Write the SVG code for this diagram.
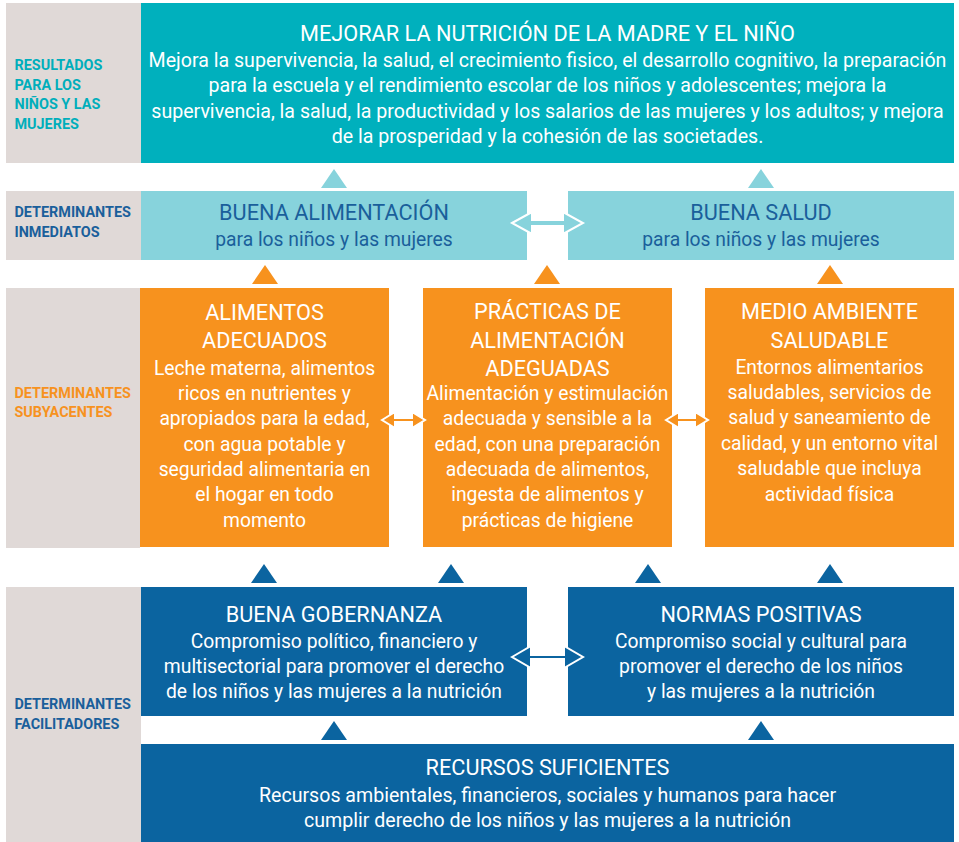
<svg xmlns="http://www.w3.org/2000/svg" width="959" height="842" viewBox="0 0 959 842">
<style>
.t{font-family:Roboto,"Liberation Sans",Arial,sans-serif;text-anchor:middle}
.h{font-size:21.7px}
.b{font-size:19.3px}
.bw{font-size:19.6px}
.w{fill:#fff}
.dk{fill:#1a5f9b}
.lab{font-family:Roboto,"Liberation Sans",Arial,sans-serif;font-weight:bold;font-size:15px}
.gray{fill:#e0d9d7}
.teal{fill:#00b0bd}
.lt{fill:#87d3dc}
.or{fill:#f7921e}
.bl{fill:#0b64a0}
.arr{stroke:#fff;stroke-width:2;stroke-linejoin:miter}
</style>
<defs>
<path id="tri" d="M0,0 L13,19 L-13,19 Z"/>
</defs>
<rect width="959" height="842" fill="#fff"/>

<g id="row-labels">
<rect class="gray" x="6" y="3" width="135" height="160"/>
<rect class="gray" x="6" y="191" width="135" height="69"/>
<rect class="gray" x="6" y="288" width="134" height="260"/>
<rect class="gray" x="6" y="587" width="135" height="255"/>
<g transform="translate(14.5 0) scale(0.96 1)" class="lab">
<text y="70.5" fill="#00aebb">RESULTADOS</text>
<text y="90" fill="#00aebb">PARA LOS</text>
<text y="109.5" fill="#00aebb">NIÑOS Y LAS</text>
<text y="129" fill="#00aebb">MUJERES</text>
<text y="217.3" fill="#1a5f9b">DETERMINANTES</text>
<text y="237.3" fill="#1a5f9b">INMEDIATOS</text>
<text y="398.3" fill="#f7921e">DETERMINANTES</text>
<text y="417.3" fill="#f7921e">SUBYACENTES</text>
<text y="709.3" fill="#1a5f9b">DETERMINANTES</text>
<text y="728.7" fill="#1a5f9b">FACILITADORES</text>
</g>
</g>

<g id="node-resultados">
<rect class="teal" x="141" y="3" width="813" height="160"/>
<g class="t w">
<text class="h" x="547.5" y="40.5">MEJORAR LA NUTRICIÓN DE LA MADRE Y EL NIÑO</text>
<text class="bw" x="547.5" y="66.5">Mejora la supervivencia, la salud, el crecimiento fisico, el desarrollo cognitivo, la preparación</text>
<text class="bw" x="547.5" y="92.2">para la escuela y el rendimiento escolar de los niños y adolescentes; mejora la</text>
<text class="bw" x="547.5" y="117.8">supervivencia, la salud, la productividad y los salarios de las mujeres y los adultos; y mejora</text>
<text class="bw" x="547.5" y="143.4">de la prosperidad y la cohesión de las societades.</text>
</g>
</g>

<g id="node-buena-alimentacion">
<rect class="lt" x="141" y="191" width="386" height="69"/>
<g class="t dk">
<text class="h" x="334" y="220">BUENA ALIMENTACIÓN</text>
<text class="b" x="334" y="245.5">para los niños y las mujeres</text>
</g>
</g>

<g id="node-buena-salud">
<rect class="lt" x="568" y="191" width="386" height="69"/>
<g class="t dk">
<text class="h" x="761" y="220">BUENA SALUD</text>
<text class="b" x="761" y="245.5">para los niños y las mujeres</text>
</g>
</g>

<g id="node-alimentos">
<rect class="or" x="140" y="288" width="249" height="259"/>
<g class="t w">
<text class="h" x="264.5" y="320">ALIMENTOS</text>
<text class="h" x="264.5" y="348">ADECUADOS</text>
<text class="b" x="264.5" y="374.5">Leche materna, alimentos</text>
<text class="b" x="264.5" y="399.9">ricos en nutrientes y</text>
<text class="b" x="264.5" y="425.2">apropiados para la edad,</text>
<text class="b" x="264.5" y="450.6">con agua potable y</text>
<text class="b" x="264.5" y="475.9">seguridad alimentaria en</text>
<text class="b" x="264.5" y="501.3">el hogar en todo</text>
<text class="b" x="264.5" y="526.6">momento</text>
</g>
</g>

<g id="node-practicas">
<rect class="or" x="423" y="288" width="249" height="259"/>
<g class="t w">
<text class="h" x="547.5" y="319">PRÁCTICAS DE</text>
<text class="h" x="547.5" y="347.5">ALIMENTACIÓN</text>
<text class="h" x="547.5" y="375.7">ADEGUADAS</text>
<text class="b" x="547.5" y="400">Alimentación y estimulación</text>
<text class="b" x="547.5" y="425.3">adecuada y sensible a la</text>
<text class="b" x="547.5" y="450.6">edad, con una preparación</text>
<text class="b" x="547.5" y="476">adecuada de alimentos,</text>
<text class="b" x="547.5" y="501.3">ingesta de alimentos y</text>
<text class="b" x="547.5" y="526.6">prácticas de higiene</text>
</g>
</g>

<g id="node-medio-ambiente">
<rect class="or" x="705" y="288" width="249" height="259"/>
<g class="t w">
<text class="h" x="829.5" y="319.3">MEDIO AMBIENTE</text>
<text class="h" x="829.5" y="347.7">SALUDABLE</text>
<text class="b" x="829.5" y="373.5">Entornos alimentarios</text>
<text class="b" x="829.5" y="399">saludables, servicios de</text>
<text class="b" x="829.5" y="424.4">salud y saneamiento de</text>
<text class="b" x="829.5" y="449.8">calidad, y un entorno vital</text>
<text class="b" x="829.5" y="475.2">saludable que incluya</text>
<text class="b" x="829.5" y="500.6">actividad física</text>
</g>
</g>

<g id="node-gobernanza">
<rect class="bl" x="141" y="587" width="386" height="129"/>
<g class="t w">
<text class="h" x="334" y="621.7">BUENA GOBERNANZA</text>
<text class="b" x="334" y="648.3">Compromiso político, financiero y</text>
<text class="b" x="334" y="673.3">multisectorial para promover el derecho</text>
<text class="b" x="334" y="698.3">de los niños y las mujeres a la nutrición</text>
</g>
</g>

<g id="node-normas">
<rect class="bl" x="568" y="587" width="386" height="129"/>
<g class="t w">
<text class="h" x="761" y="621.7">NORMAS POSITIVAS</text>
<text class="b" x="761" y="648.3">Compromiso social y cultural para</text>
<text class="b" x="761" y="673.3">promover el derecho de los niños</text>
<text class="b" x="761" y="698.3">y las mujeres a la nutrición</text>
</g>
</g>

<g id="node-recursos">
<rect class="bl" x="141" y="744" width="813" height="98"/>
<g class="t w">
<text class="h" x="547.5" y="775">RECURSOS SUFICIENTES</text>
<text class="bw" x="547.5" y="801.7">Recursos ambientales, financieros, sociales y humanos para hacer</text>
<text class="bw" x="547.5" y="826.7">cumplir derecho de los niños y las mujeres a la nutrición</text>
</g>
</g>

<g id="connectors">
<use href="#tri" x="334" y="169" class="lt"/>
<use href="#tri" x="761" y="169" class="lt"/>
<use href="#tri" x="265" y="265" class="or"/>
<use href="#tri" x="547" y="265" class="or"/>
<use href="#tri" x="830" y="265" class="or"/>
<use href="#tri" x="264" y="564" class="bl"/>
<use href="#tri" x="451" y="564" class="bl"/>
<use href="#tri" x="648" y="564" class="bl"/>
<use href="#tri" x="830" y="564" class="bl"/>
<use href="#tri" x="334" y="721" class="bl"/>
<use href="#tri" x="761" y="721" class="bl"/>
<polygon class="lt arr" points="512,223 532,212 532,220 563,220 563,212 583,223 563,234 563,226 532,226 532,234"/>
<polygon class="or arr" points="382,420 395,412 395,418 412,418 412,412 425,420 412,428 412,422 395,422 395,428"/>
<polygon class="or arr" points="666,420 679,412 679,418 695,418 695,412 708,420 695,428 695,422 679,422 679,428"/>
<polygon class="bl arr" points="512,657 531,646 531,655 564,655 564,646 583,657 564,668 564,659 531,659 531,668"/>
</g>
</svg>
